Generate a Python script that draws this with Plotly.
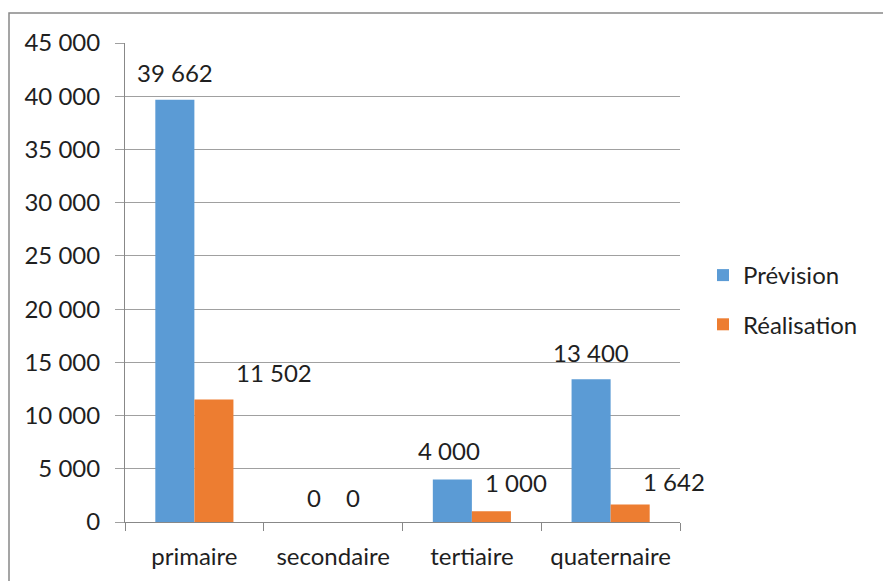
import plotly.graph_objects as go

categories = ["primaire", "secondaire", "tertiaire", "quaternaire"]
prevision = [39662, 0, 4000, 13400]
realisation = [11502, 0, 1000, 1642]
series_names = ["Prévision", "Réalisation"]

BLUE = "#5B9BD5"
ORANGE = "#ED7D31"
TXT = "#1F1F1F"
FONT = "Lato"
BARGAP = 0.437

# manual label offsets (px): (xshift, distance above bar top)
prev_off = [(0, 27), (0, 25), (-3, 29), (0, 27)]
real_off = [(60, 27), (0, 25), (25, 29), (44, 23)]

fig = go.Figure()
fig.add_trace(go.Bar(x=categories, y=prevision, name=series_names[0],
                     marker=dict(color=BLUE, line=dict(width=0)), legendgroup="a"))
fig.add_trace(go.Bar(x=categories, y=realisation, name=series_names[1],
                     marker=dict(color=ORANGE, line=dict(width=0)), legendgroup="b"))

def fmt(v):
    return f"{v:,}".replace(",", " ")

half = (1 - BARGAP) / 4
annotations = []
for i, (p, r) in enumerate(zip(prevision, realisation)):
    for val, off, sign in ((p, prev_off[i], -1), (r, real_off[i], 1)):
        annotations.append(dict(
            x=i + sign * half, y=val, xref="x", yref="y", text=fmt(val),
            showarrow=False, xanchor="center", yanchor="middle",
            xshift=off[0], yshift=off[1],
            font=dict(family=FONT, size=24, color=TXT)))

W, H = 883, 581
L, R, T, B = 125, 680, 43, 522
fig.update_layout(
    width=W, height=H,
    margin=dict(l=L, r=W - R, t=T, b=H - B, pad=0, autoexpand=False),
    paper_bgcolor="white", plot_bgcolor="white",
    barmode="group", bargap=BARGAP, bargroupgap=0,
    separators=", ",
    font=dict(family=FONT, size=24, color=TXT),
    showlegend=True,
    legend=dict(x=(703 - L) / (R - L), xanchor="left",
                y=(B - 300) / (B - T), yanchor="middle",
                traceorder="grouped", tracegroupgap=15,
                font=dict(family=FONT, size=24, color=TXT),
                bgcolor="rgba(0,0,0,0)", itemwidth=30),
    annotations=annotations,
    shapes=[dict(type="rect", xref="paper", yref="paper",
                 x0=(9 - L) / (R - L), x1=1.5,
                 y0=-0.5, y1=(B - 13) / (B - T),
                 line=dict(color="#888888", width=1.5), layer="below")],
)
fig.update_xaxes(
    type="category", range=[-0.5, len(categories) - 0.5], autorange=False,
    showline=True, linecolor="#888888", linewidth=1,
    ticks="outside", tickson="boundaries", ticklen=8, tickcolor="#888888",
    showgrid=False, ticklabelstandoff=13,
    tickfont=dict(family=FONT, size=24, color=TXT),
)
fig.update_yaxes(
    range=[0, 45000], autorange=False, dtick=5000, tickformat=",d",
    showline=True, linecolor="#888888", linewidth=1,
    ticks="outside", ticklen=9, tickcolor="#A0A0A0",
    showgrid=True, gridcolor="#A0A0A0", gridwidth=1, zeroline=False,
    ticklabelstandoff=10,
    tickfont=dict(family=FONT, size=24, color=TXT),
)
fig.write_html(
    "out.html",
    config={"displayModeBar": False},
    post_script="document.body.style.margin='0';document.body.style.overflow='hidden';",
)
